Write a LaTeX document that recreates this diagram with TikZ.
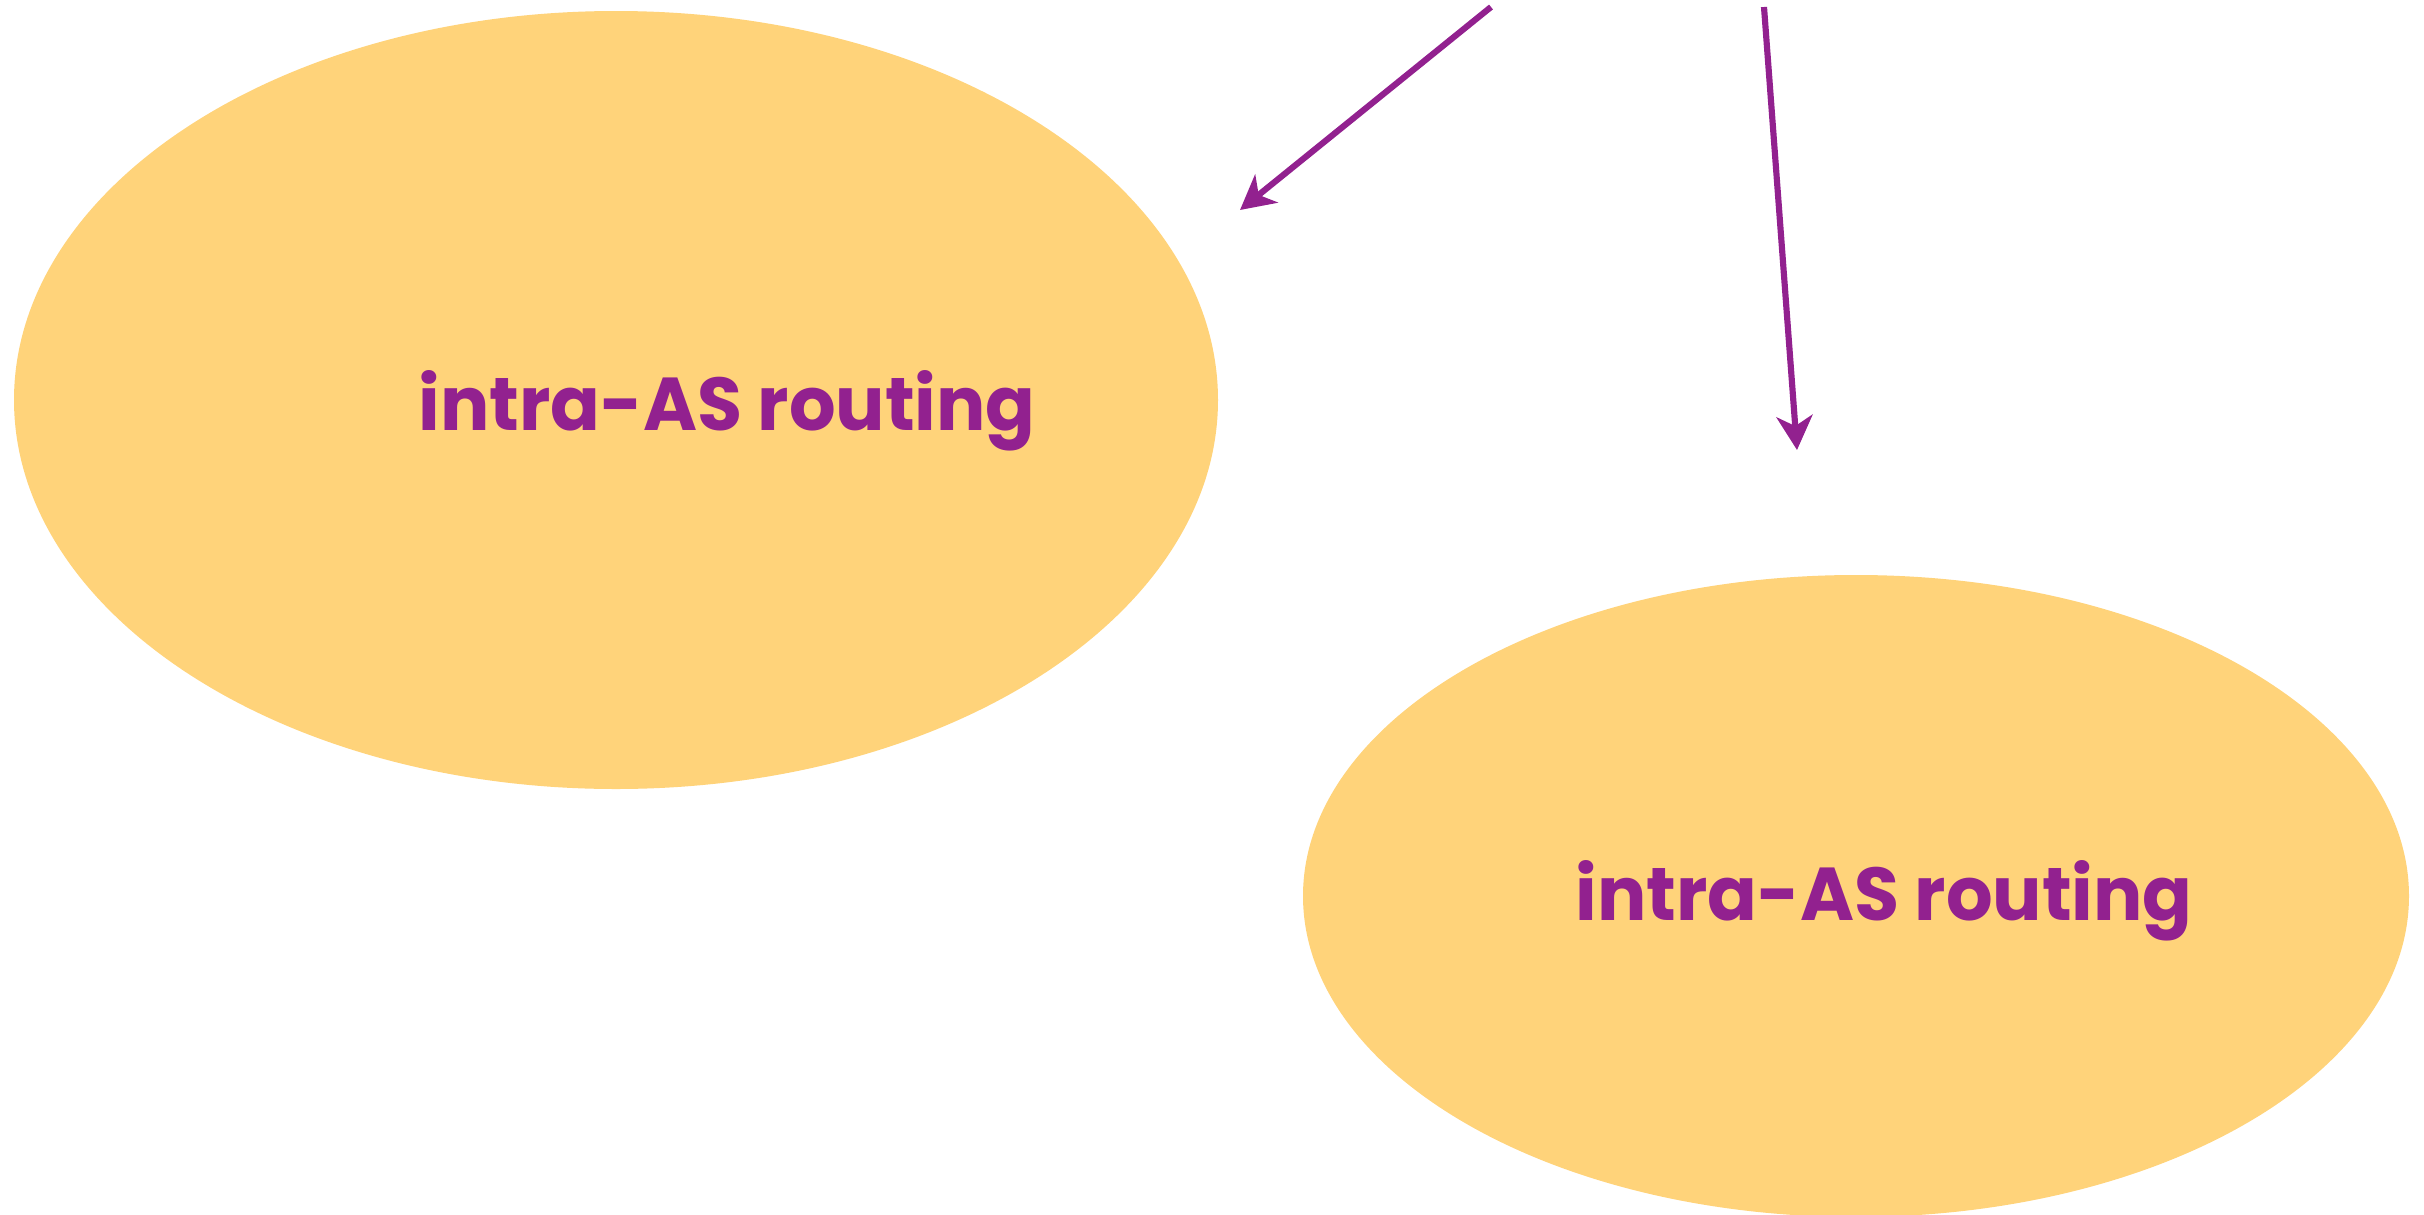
\documentclass[tikz,border=0pt]{standalone}
\usepackage{fontspec}
\usepackage{graphicx}
\setmainfont{Poppins}
\usetikzlibrary{shapes.geometric,arrows.meta}
\definecolor{asfill}{RGB}{255,211,122}
\definecolor{aspurple}{RGB}{146,33,143}
\tikzset{
  asblob/.style={ellipse, fill=asfill, draw=none, inner sep=0pt},
  aslabel/.style={anchor=base west, inner sep=0pt, text=aspurple, font=\bfseries},
  asarrow/.style={draw=aspurple, line width=1.75pt,
    -{Stealth[length=0.34cm, width=0.36cm, inset=0.1cm]}}
}
\newcommand{\aslabeltext}{\resizebox{6.17cm}{0.60cm}{intra-AS routing}}
\begin{document}
\begin{tikzpicture}
\useasboundingbox (0,0) rectangle (24.24,-12.15);
\clip (0,0) rectangle (24.24,-12.15);
\node[asblob, minimum width=12.04cm, minimum height=7.78cm] (asA) at (6.16,-4.00) {};
\node[asblob, minimum width=11.06cm, minimum height=6.42cm] (asB) at (18.56,-8.96) {};
\node[aslabel] (labA) at (4.18,-4.30) {\aslabeltext};
\node[aslabel] (labB) at (15.75,-9.20) {\aslabeltext};
\coordinate (s1) at (14.91,-0.07);
\coordinate (t1) at (12.40,-2.10);
\coordinate (s2) at (17.64,-0.07);
\coordinate (t2) at (17.97,-4.50);
\draw[asarrow] (s1) -- (t1);
\draw[asarrow] (s2) -- (t2);
\end{tikzpicture}
\end{document}
